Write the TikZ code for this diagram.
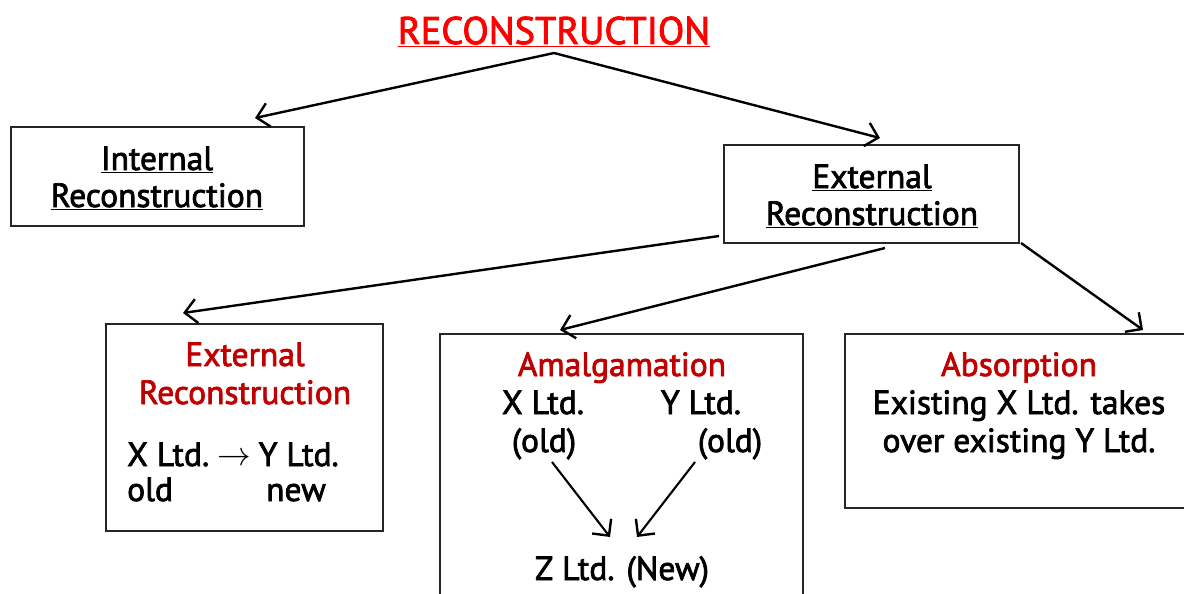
\documentclass[tikz,border=0pt]{standalone}
\usepackage{fontspec}
\setmainfont{PT Sans}[FakeBold=2.2]
\usetikzlibrary{arrows.meta}
\definecolor{titlered}{HTML}{FF0000}
\definecolor{darkred}{HTML}{C00000}
\tikzset{
  box/.style={draw=black!85, line width=1.4pt},
  txt/.style={anchor=base, inner sep=0pt, font=\fontsize{33.5}{36}\selectfont},
  arr/.style={line width=2.4pt, -{Straight Barb[length=12pt,width=24pt,line width=2.4pt]}},
}
\begin{document}
\begin{tikzpicture}[x=1pt,y=-1pt]
\useasboundingbox (0,0) rectangle (1184,594);
\clip (0,0) rectangle (1184,594);
% title
\node[txt, text=titlered, font=\fontsize{38.5}{40}\selectfont] (title) at (554,44) {\underline{RECONSTRUCTION}};
\coordinate (top) at (554,53);
% boxes
\draw[box] (11,127) rectangle (304,226);
\draw[box] (724,145) rectangle (1019,243);
\draw[box] (106,324) rectangle (383,531);
\draw[box] (440,334) rectangle (803,600);
\draw[box] (845,334) rectangle (1190,508);
% texts
\node[txt] (intA) at (157,170) {\underline{Internal}};
\node[txt] (intB) at (157,207) {\underline{Reconstruction}};
\node[txt] (extA) at (872,188) {\underline{External}};
\node[txt] (extB) at (872,225) {\underline{Reconstruction}};
\node[txt, text=darkred] (lA) at (245,366) {External};
\node[txt, text=darkred] (lB) at (245,404) {Reconstruction};
\node[txt, anchor=base west] (lC) at (127,466) {X Ltd.\hspace{8pt}\raisebox{1pt}{\scalebox{1.35}{$\rightarrow$}}\hspace{8pt}Y Ltd.};
\node[txt, anchor=base west] (lD) at (127,501) {old};
\node[txt, anchor=base west] (lE) at (266,501) {new};
\node[txt, text=darkred] (amT) at (622,376) {Amalgamation};
\node[txt] (amX) at (543,414) {X Ltd.};
\node[txt] (amY) at (701,414) {Y Ltd.};
\node[txt] (amXo) at (544,452) {(old)};
\node[txt] (amYo) at (730,452) {(old)};
\node[txt] (amZ) at (622,580) {Z Ltd. (New)};
\node[txt, text=darkred] (abT) at (1019,376) {Absorption};
\node[txt] (abA) at (1019,414) {Existing X Ltd. takes};
\node[txt] (abB) at (1019,452) {over existing Y Ltd.};
% connector endpoints
\coordinate (intT) at (255,118);
\coordinate (extT) at (880,138);
\coordinate (e1) at (719,236);
\coordinate (lT) at (183,313);
\coordinate (e2) at (885,248);
\coordinate (amTop) at (560,330);
\coordinate (e3) at (1021,243);
\coordinate (abTop) at (1143,330);
\coordinate (xs) at (552,462);
\coordinate (xe) at (610,537);
\coordinate (ys) at (695,462);
\coordinate (ye) at (637,537);
\draw[arr] (top) -- (intT);
\draw[arr] (top) -- (extT);
\draw[arr] (e1) -- (lT);
\draw[arr] (e2) -- (amTop);
\draw[arr] (e3) -- (abTop);
\draw[arr, line width=2.1pt] (xs) -- (xe);
\draw[arr, line width=2.1pt] (ys) -- (ye);
\end{tikzpicture}
\end{document}
